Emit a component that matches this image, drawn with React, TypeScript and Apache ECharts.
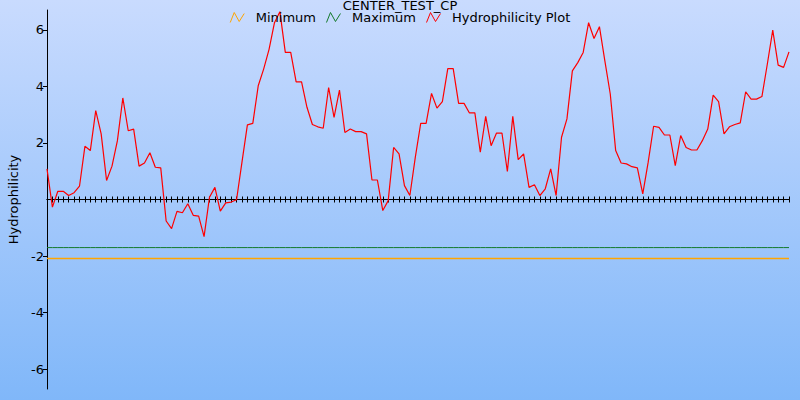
import React, { useEffect, useRef } from "react";
import * as echarts from "echarts";

const TITLE = "CENTER_TEST_CP";
const Y_NAME = "Hydrophilicity";
const SERIES_NAMES = ["Minimum", "Maximum", "Hydrophilicity Plot"];
const Y_TICKS = [-6, -4, -2, 2, 4, 6];
const MIN_LEVEL = -2.09;
const MAX_LEVEL = -1.7;

const hydrophilicity = [
  1.08, -0.27, 0.29, 0.29, 0.14, 0.24, 0.47, 1.88, 1.73, 3.14,
  2.32, 0.67, 1.18, 2.08, 3.59, 2.43, 2.49, 1.18, 1.29, 1.65,
  1.14, 1.12, -0.76, -1.03, -0.42, -0.47, -0.15, -0.56, -0.59, -1.31,
  0.08, 0.43, -0.41, -0.12, -0.09, -0.01, 1.32, 2.64, 2.69, 4.02,
  4.61, 5.31, 6.25, 6.64, 5.2, 5.2, 4.16, 4.16, 3.26, 2.65,
  2.57, 2.52, 3.96, 2.9, 3.87, 2.37, 2.49, 2.4, 2.4, 2.32,
  0.69, 0.69, -0.39, -0.04, 1.84, 1.61, 0.49, 0.14, 1.49, 2.69,
  2.69, 3.75, 3.23, 3.46, 4.63, 4.63, 3.4, 3.4, 3.06, 3.06,
  1.67, 2.94, 1.9, 2.35, 2.35, 0.99, 2.94, 1.41, 1.61, 0.43,
  0.52, 0.14, 0.38, 1.08, 0.14, 2.2, 2.85, 4.55, 4.84, 5.2,
  6.25, 5.69, 6.11, 4.9, 3.73, 1.73, 1.29, 1.26, 1.16, 1.12,
  0.2, 1.32, 2.59, 2.55, 2.28, 2.28, 1.2, 2.26, 1.84, 1.75,
  1.75, 2.08, 2.49, 3.69, 3.46, 2.32, 2.57, 2.65, 2.71, 3.81,
  3.55, 3.55, 3.64, 4.79, 5.99, 4.75, 4.67, 5.22,
];

const categories = hydrophilicity.map((_, i) => String(i + 1));
const minimumSeries = categories.map(() => MIN_LEVEL);
const maximumSeries = categories.map(() => MAX_LEVEL);

const FONT = "DejaVu Sans";
const COLORS = ["#ffa500", "#147a2c", "#ff0000"];
const ICON = "path://M0,10L4,0L9,9L14,1";

export default function App() {
  const ref = useRef<HTMLDivElement>(null);
  useEffect(() => {
    if (!ref.current) return;
    const chart = echarts.init(ref.current, null, { renderer: "svg" });
    const xBase = {
      type: "category" as const,
      data: categories,
      boundaryGap: false,
      axisTick: { show: true, interval: 0, length: 3, lineStyle: { color: "#000", width: 1 } },
      axisLabel: { show: false },
      splitLine: { show: false },
    };
    const yRange = { type: "value" as const, min: -6.7, max: 6.7 };
    chart.setOption({
      animation: false,
      backgroundColor: new echarts.graphic.LinearGradient(0, 0, 0, 1, [
        { offset: 0, color: "#c9dbfe" },
        { offset: 1, color: "#80b7f9" },
      ]),
      textStyle: { fontFamily: FONT },
      title: {
        text: TITLE,
        left: "center",
        top: -6,
        textStyle: { fontFamily: FONT, fontSize: 13, fontWeight: "normal", color: "#000" },
      },
      legend: {
        top: 6,
        left: "center",
        itemWidth: 15,
        itemHeight: 10,
        itemGap: 10,
        textStyle: { fontFamily: FONT, fontSize: 13, color: "#000", padding: [0, 0, 0, 6] },
        data: SERIES_NAMES.map((n, i) => ({
          name: n,
          icon: ICON,
          itemStyle: { color: "transparent", borderColor: COLORS[i], borderWidth: 1 },
        })),
      },
      grid: { left: 47, right: 11, top: 10, bottom: 11, containLabel: false, outerBoundsMode: "none" },
      xAxis: [
        {
          ...xBase,
          position: "bottom",
          axisLine: { onZero: true, onZeroAxisIndex: 0, lineStyle: { color: "#000", width: 1 } },
        },
        {
          ...xBase,
          position: "top",
          axisLine: { onZero: true, onZeroAxisIndex: 1, lineStyle: { color: "#000", width: 1 } },
        },
      ],
      yAxis: [
        {
          ...yRange,
          name: Y_NAME,
          nameLocation: "middle",
          nameGap: 25,
          nameRotate: 90,
          nameTextStyle: { fontFamily: FONT, fontSize: 13, color: "#000" },
          axisLine: { show: true, onZero: false, lineStyle: { color: "#000", width: 1 } },
          axisTick: { show: true, length: 4, customValues: Y_TICKS, lineStyle: { color: "#000" } },
          axisLabel: { customValues: Y_TICKS, fontFamily: FONT, fontSize: 13, color: "#000", margin: 3 },
          splitLine: { show: false },
        },
        {
          ...yRange,
          position: "left",
          axisLine: { show: false, onZero: false },
          axisTick: { show: false },
          axisLabel: { show: false },
          splitLine: { show: false },
        },
      ],
      series: [
        {
          name: SERIES_NAMES[0],
          type: "line",
          xAxisIndex: 0,
          yAxisIndex: 0,
          data: minimumSeries,
          showSymbol: false,
          symbol: "none",
          color: COLORS[0],
          lineStyle: { color: COLORS[0], width: 1.5 },
        },
        {
          name: SERIES_NAMES[1],
          type: "line",
          xAxisIndex: 0,
          yAxisIndex: 0,
          data: maximumSeries,
          showSymbol: false,
          symbol: "none",
          color: COLORS[1],
          lineStyle: { color: COLORS[1], width: 1 },
        },
        {
          name: SERIES_NAMES[2],
          type: "line",
          xAxisIndex: 0,
          yAxisIndex: 0,
          data: hydrophilicity,
          showSymbol: false,
          symbol: "none",
          color: COLORS[2],
          lineStyle: { color: COLORS[2], width: 1.2 },
        },
      ],
    });
    return () => chart.dispose();
  }, []);
  return (
    <div
      ref={ref}
      style={{ position: "fixed", left: 0, top: 0, width: 800, height: 400 }}
    />
  );
}
